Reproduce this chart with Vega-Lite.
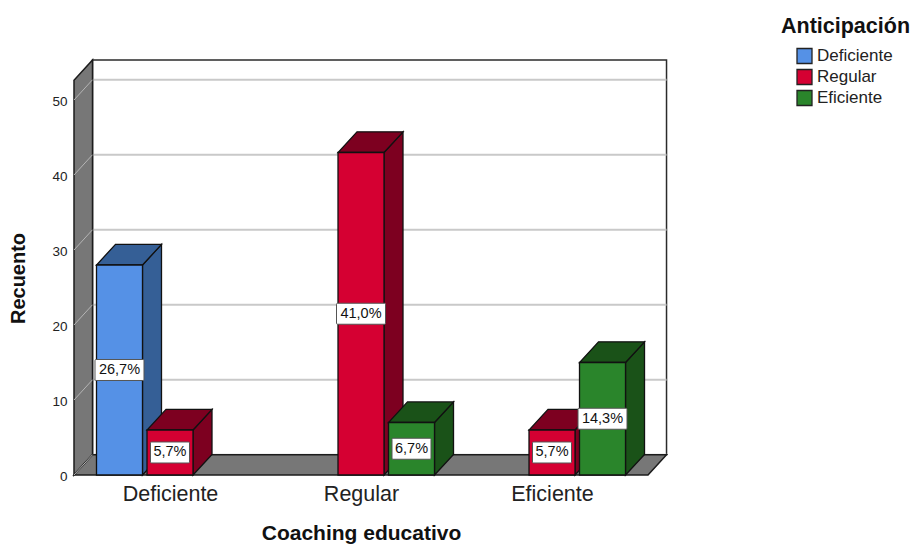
{
  "$schema": "https://vega.github.io/schema/vega-lite/v6.json",
  "width": 594,
  "height": 415,
  "autosize": "none",
  "padding": {"left": 74, "top": 60, "right": 244, "bottom": 69},
  "background": "white",
  "config": {"view": {"stroke": null}, "font": "Liberation Sans"},
  "datasets": {
    "barras": [
      {"coaching": "Deficiente", "anticipacion": "Deficiente", "recuento": 28, "etiqueta": "26,7%"},
      {"coaching": "Deficiente", "anticipacion": "Regular", "recuento": 6, "etiqueta": "5,7%"},
      {"coaching": "Regular", "anticipacion": "Regular", "recuento": 43, "etiqueta": "41,0%"},
      {"coaching": "Regular", "anticipacion": "Eficiente", "recuento": 7, "etiqueta": "6,7%"},
      {"coaching": "Eficiente", "anticipacion": "Regular", "recuento": 6, "etiqueta": "5,7%"},
      {"coaching": "Eficiente", "anticipacion": "Eficiente", "recuento": 15, "etiqueta": "14,3%"}
    ],
    "paredes": [
      {"cara": "izquierda", "n": 1, "pos": -0.5026, "rec": 0},
      {"cara": "izquierda", "n": 2, "pos": -0.4056, "rec": 2.7},
      {"cara": "izquierda", "n": 3, "pos": -0.4056, "rec": 55.33},
      {"cara": "izquierda", "n": 4, "pos": -0.5026, "rec": 52.63},
      {"cara": "suelo", "n": 1, "pos": -0.5026, "rec": 0},
      {"cara": "suelo", "n": 2, "pos": 2.5026, "rec": 0},
      {"cara": "suelo", "n": 3, "pos": 2.5996, "rec": 2.7},
      {"cara": "suelo", "n": 4, "pos": -0.4056, "rec": 2.7}
    ],
    "fondo": [{"x0": -0.4056, "x1": 2.5996, "y0": 2.7, "y1": 55.33}],
    "rejilla": [
      {"valor": 0}, {"valor": 10}, {"valor": 20}, {"valor": 30}, {"valor": 40}, {"valor": 50}
    ]
  },
  "layer": [
    {
      "data": {"name": "fondo"},
      "mark": {"type": "rect", "fill": "white", "stroke": "#2b2b2b", "strokeWidth": 1.5},
      "encoding": {
        "x": {
          "field": "x0",
          "type": "quantitative",
          "scale": {"domain": [-0.5026, 2.6073], "nice": false, "zero": false},
          "axis": {
            "values": [0, 1, 2],
            "labelExpr": "['Deficiente','Regular','Eficiente'][datum.value]",
            "domain": false,
            "ticks": false,
            "grid": false,
            "labelFont": "Liberation Sans",
            "labelFontSize": 21.5,
            "labelColor": "#222222",
            "labelPadding": 8,
            "labelFlush": false,
            "labelOverlap": false,
            "title": "Coaching educativo",
            "titleFont": "Liberation Sans",
            "titleFontSize": 21,
            "titleFontWeight": "bold",
            "titleColor": "#111111",
            "titleX": 287,
            "titleY": 47,
            "titleAnchor": "middle"
          }
        },
        "x2": {"field": "x1"},
        "y": {
          "field": "y0",
          "type": "quantitative",
          "scale": {"domain": [0, 55.333], "nice": false, "zero": false},
          "axis": {
            "values": [0, 10, 20, 30, 40, 50],
            "domain": false,
            "ticks": false,
            "grid": false,
            "labelFont": "Liberation Sans",
            "labelFontSize": 13.5,
            "labelColor": "#222222",
            "labelPadding": 7,
            "labelFlush": false,
            "labelOffset": 1.5,
            "title": "Recuento",
            "titleFont": "Liberation Sans",
            "titleFontSize": 20,
            "titleFontWeight": "bold",
            "titleColor": "#111111",
            "titleX": -46,
            "titleY": 218,
            "titleAnchor": "middle"
          }
        },
        "y2": {"field": "y1"}
      }
    },
    {
      "data": {"name": "rejilla"},
      "transform": [
        {"calculate": "datum.valor + 2.7", "as": "fondoY"},
        {"calculate": "-0.4056", "as": "xFondo"},
        {"calculate": "2.5996", "as": "xDerecha"}
      ],
      "mark": {"type": "rule", "stroke": "#c9c9c9", "strokeWidth": 2},
      "encoding": {
        "x": {"field": "xFondo", "type": "quantitative"},
        "x2": {"field": "xDerecha"},
        "y": {"field": "fondoY", "type": "quantitative"}
      }
    },
    {
      "data": {"name": "paredes"},
      "mark": {"type": "line", "interpolate": "linear-closed", "fill": "#777777", "stroke": "#1c1c1c", "strokeWidth": 1.5},
      "encoding": {
        "x": {"field": "pos", "type": "quantitative"},
        "y": {"field": "rec", "type": "quantitative"},
        "detail": {"field": "cara"},
        "order": {"field": "n"}
      }
    },
    {
      "data": {"name": "rejilla"},
      "transform": [
        {"calculate": "datum.valor + 2.7", "as": "fondoY"},
        {"calculate": "-0.5026", "as": "xFrente"},
        {"calculate": "-0.4056", "as": "xFondo"}
      ],
      "mark": {"type": "rule", "stroke": "#b5b5b5", "strokeWidth": 1},
      "encoding": {
        "x": {"field": "xFrente", "type": "quantitative"},
        "x2": {"field": "xFondo"},
        "y": {"field": "valor", "type": "quantitative"},
        "y2": {"field": "fondoY"}
      }
    },
    {
      "data": {"name": "barras"},
      "transform": [
        {"calculate": "indexof(['Deficiente','Regular','Eficiente'], datum.coaching) + 0.2644 * (indexof(['Deficiente','Regular','Eficiente'], datum.anticipacion) - 1)", "as": "centro"},
        {"calculate": "[0,1,2,3]", "as": "v"},
        {"flatten": ["v"]},
        {"calculate": "datum.centro + 0.1204 + (datum.v == 1 || datum.v == 2 ? 0.0995 : 0)", "as": "px"},
        {"calculate": "datum.v == 0 ? datum.recuento : datum.v == 1 ? datum.recuento + 2.75 : datum.v == 2 ? 2.75 : 0", "as": "py"}
      ],
      "mark": {"type": "line", "interpolate": "linear-closed", "stroke": "#111111", "strokeWidth": 1.3},
      "encoding": {
        "x": {"field": "px", "type": "quantitative"},
        "y": {"field": "py", "type": "quantitative"},
        "detail": {"field": "coaching"},
        "order": {"field": "v"},
        "fill": {
          "field": "anticipacion",
          "type": "nominal",
          "scale": {"domain": ["Eficiente", "Regular", "Deficiente"], "range": ["#1a5218", "#7d0020", "#355f96"]},
          "legend": null
        }
      }
    },
    {
      "data": {"name": "barras"},
      "transform": [
        {"calculate": "indexof(['Deficiente','Regular','Eficiente'], datum.coaching) + 0.2644 * (indexof(['Deficiente','Regular','Eficiente'], datum.anticipacion) - 1)", "as": "centro"},
        {"calculate": "[0,1,2,3]", "as": "v"},
        {"flatten": ["v"]},
        {"calculate": "datum.centro + (datum.v == 0 || datum.v == 3 ? -0.1204 : 0.1204) + (datum.v >= 2 ? 0.0995 : 0)", "as": "px"},
        {"calculate": "datum.recuento + (datum.v >= 2 ? 2.75 : 0)", "as": "py"}
      ],
      "mark": {"type": "line", "interpolate": "linear-closed", "stroke": "#111111", "strokeWidth": 1.3},
      "encoding": {
        "x": {"field": "px", "type": "quantitative"},
        "y": {"field": "py", "type": "quantitative"},
        "detail": {"field": "coaching"},
        "order": {"field": "v"},
        "fill": {"field": "anticipacion", "type": "nominal", "legend": null}
      }
    },
    {
      "data": {"name": "barras"},
      "transform": [
        {"calculate": "indexof(['Deficiente','Regular','Eficiente'], datum.coaching) + 0.2644 * (indexof(['Deficiente','Regular','Eficiente'], datum.anticipacion) - 1)", "as": "centro"},
        {"calculate": "datum.centro - 0.1204", "as": "xIni"},
        {"calculate": "datum.centro + 0.1204", "as": "xFin"}
      ],
      "mark": {"type": "rect", "stroke": "#111111", "strokeWidth": 1.3},
      "encoding": {
        "x": {"field": "xIni", "type": "quantitative"},
        "x2": {"field": "xFin"},
        "y": {"field": "recuento", "type": "quantitative"},
        "y2": {"datum": 0},
        "color": {
          "field": "anticipacion",
          "type": "nominal",
          "scale": {"domain": ["Deficiente", "Regular", "Eficiente"], "range": ["#5591e6", "#d50032", "#2a852b"]},
          "legend": {
            "orient": "none",
            "legendX": 707,
            "legendY": -44,
            "title": "Anticipación",
            "titleFont": "Liberation Sans",
            "titleFontSize": 21.5,
            "titleFontWeight": "bold",
            "titleColor": "#111111",
            "titlePadding": 10,
            "symbolType": "square",
            "symbolSize": 225,
            "symbolStrokeColor": "#222222",
            "symbolStrokeWidth": 1.3,
            "symbolOpacity": 1,
            "symbolOffset": 15,
            "labelFont": "Liberation Sans",
            "labelFontSize": 17,
            "labelColor": "#222222",
            "labelOffset": 4,
            "rowPadding": 0
          }
        }
      }
    },
    {
      "data": {"name": "barras"},
      "transform": [
        {"calculate": "indexof(['Deficiente','Regular','Eficiente'], datum.coaching) + 0.2644 * (indexof(['Deficiente','Regular','Eficiente'], datum.anticipacion) - 1)", "as": "centro"},
        {"calculate": "(length(datum.etiqueta) == 5 ? 24.5 : 19.5) / 191", "as": "medio"},
        {"calculate": "datum.centro - datum.medio", "as": "xIni"},
        {"calculate": "datum.centro + datum.medio", "as": "xFin"},
        {"calculate": "datum.recuento / 2 - 1.4", "as": "yIni"},
        {"calculate": "datum.recuento / 2 + 1.4", "as": "yFin"}
      ],
      "mark": {"type": "rect", "fill": "white", "stroke": "#555555", "strokeWidth": 1, "cornerRadius": 1},
      "encoding": {
        "x": {"field": "xIni", "type": "quantitative"},
        "x2": {"field": "xFin"},
        "y": {"field": "yIni", "type": "quantitative"},
        "y2": {"field": "yFin"}
      }
    },
    {
      "data": {"name": "barras"},
      "transform": [
        {"calculate": "indexof(['Deficiente','Regular','Eficiente'], datum.coaching) + 0.2644 * (indexof(['Deficiente','Regular','Eficiente'], datum.anticipacion) - 1)", "as": "centro"},
        {"calculate": "datum.recuento / 2", "as": "medioY"}
      ],
      "mark": {"type": "text", "font": "Liberation Sans", "fontSize": 14.5, "fill": "#111111", "align": "center", "baseline": "middle"},
      "encoding": {
        "x": {"field": "centro", "type": "quantitative"},
        "y": {"field": "medioY", "type": "quantitative"},
        "text": {"field": "etiqueta"}
      }
    }
  ]
}
